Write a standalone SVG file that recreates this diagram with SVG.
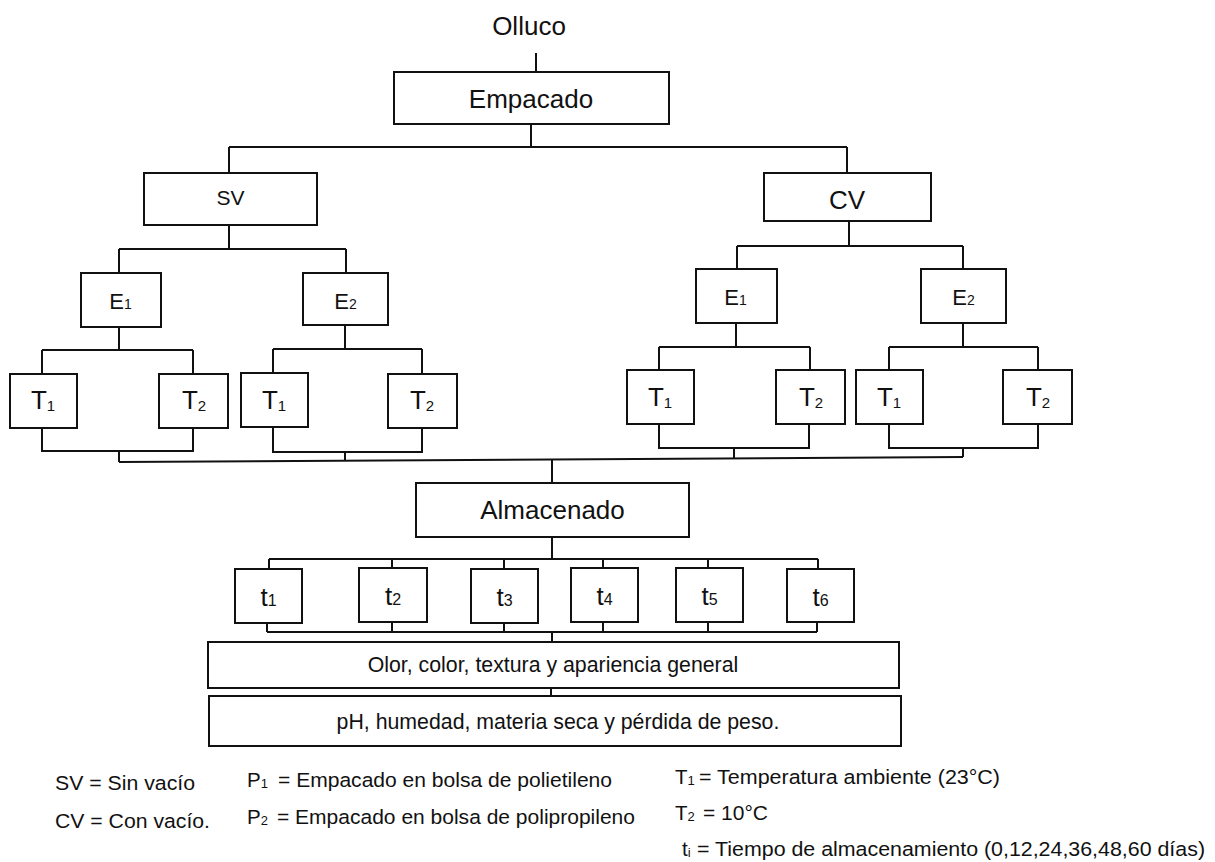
<svg xmlns="http://www.w3.org/2000/svg" width="1215" height="862" viewBox="0 0 1215 862">
<style>
  .box{fill:#fff;stroke:#111;stroke-width:2}
  .ln{fill:none;stroke:#111;stroke-width:2}
  text{font-family:"Liberation Sans",Arial,sans-serif;fill:#111}
  .big{font-size:26px;text-anchor:middle}
  .mid{font-size:21.3px;text-anchor:middle}
  .lg{font-size:20.5px}
  .s{font-size:15px}
</style>
<rect width="1215" height="862" fill="#fff"/>
<g id="connectors" class="ln">
  <path d="M536,53V72"/>
  <path d="M531,124V147M229,147H847M229,147V173M847,147V173"/>
  <path d="M229,225V249M119,249H346M119,249V273M346,249V273"/>
  <path d="M849,221V246M737,246H963M737,246V269M963,246V269"/>
  <path d="M119,327V350M42,350H193M42,350V374M193,350V374"/>
  <path d="M42,428V451H193V428M119,451V462"/>
  <path d="M345,325V349M273,349H422M273,349V373M422,349V374"/>
  <path d="M273,427V452H422V428M345,452V461"/>
  <path d="M736,323V347M659,347H810M659,347V370M810,347V370"/>
  <path d="M659,424V448H809V424M734,448V458"/>
  <path d="M963,323V347M889,347H1038M889,347V370M1038,347V370"/>
  <path d="M889,424V448H1038V424M963,448V457"/>
  <path d="M119,462L963,457"/>
  <path d="M552,459.5V483"/>
  <path d="M552,537V559M269,559H818M269,559V569M392,559V568M504,559V569M603,559V568M708,559V568M818,559V569"/>
  <path d="M267,623V632M392,622V632M504,623V632M603,622V632M708,622V632M817,622V632M267,632H817"/>
  <path d="M552,632V642M551,688V696"/>
</g>
<g id="olluco"><text class="big" x="529" y="35">Olluco</text></g>
<g id="empacado"><rect class="box" x="394" y="72" width="275" height="52"/><text class="big" x="531" y="108">Empacado</text></g>
<g id="sv"><rect class="box" x="144" y="173" width="173" height="52"/><text class="big" style="font-size:21px" x="230.5" y="205">SV</text></g>
<g id="cv"><rect class="box" x="764" y="173" width="167" height="48"/><text class="big" x="847" y="209">CV</text></g>
<g id="sv-e1"><rect class="box" x="81" y="273" width="80" height="54"/><text class="big" style="font-size:22px" x="120.5" y="309">E<tspan class="s" style="font-size:14px">1</tspan></text></g>
<g id="sv-e2"><rect class="box" x="303" y="273" width="85" height="52"/><text class="big" style="font-size:22px" x="345.5" y="309">E<tspan style="font-size:14px">2</tspan></text></g>
<g id="cv-e1"><rect class="box" x="696" y="269" width="81" height="54"/><text class="big" style="font-size:22px" x="735.5" y="305">E<tspan style="font-size:14px">1</tspan></text></g>
<g id="cv-e2"><rect class="box" x="921" y="269" width="85" height="54"/><text class="big" style="font-size:22px" x="963.5" y="305">E<tspan style="font-size:14px">2</tspan></text></g>
<g id="sv-e1-t1"><rect class="box" x="10" y="374" width="67" height="54"/><text class="big" x="43" y="409">T<tspan class="s" dy="2">1</tspan></text></g>
<g id="sv-e1-t2"><rect class="box" x="159" y="374" width="69" height="54"/><text class="big" x="194" y="409">T<tspan class="s" dy="2">2</tspan></text></g>
<g id="sv-e2-t1"><rect class="box" x="241" y="373" width="67" height="54"/><text class="big" x="274" y="409">T<tspan class="s" dy="2">1</tspan></text></g>
<g id="sv-e2-t2"><rect class="box" x="388" y="374" width="69" height="54"/><text class="big" x="422" y="409">T<tspan class="s" dy="2">2</tspan></text></g>
<g id="cv-e1-t1"><rect class="box" x="627" y="370" width="67" height="54"/><text class="big" x="660" y="406">T<tspan class="s" dy="2">1</tspan></text></g>
<g id="cv-e1-t2"><rect class="box" x="776" y="370" width="69" height="54"/><text class="big" x="811" y="406">T<tspan class="s" dy="2">2</tspan></text></g>
<g id="cv-e2-t1"><rect class="box" x="856" y="370" width="67" height="54"/><text class="big" x="889" y="406">T<tspan class="s" dy="2">1</tspan></text></g>
<g id="cv-e2-t2"><rect class="box" x="1003" y="370" width="69" height="54"/><text class="big" x="1038" y="406">T<tspan class="s" dy="2">2</tspan></text></g>
<g id="almacenado"><rect class="box" x="416" y="483" width="273" height="54"/><text class="big" x="552.5" y="519">Almacenado</text></g>
<g id="t1"><rect class="box" x="235" y="569" width="67" height="54"/><text class="big" x="268.5" y="606">t<tspan style="font-size:16px">1</tspan></text></g>
<g id="t2"><rect class="box" x="359" y="568" width="68" height="54"/><text class="big" x="393" y="605">t<tspan style="font-size:16px">2</tspan></text></g>
<g id="t3"><rect class="box" x="471" y="569" width="67" height="54"/><text class="big" x="504.5" y="606">t<tspan style="font-size:16px">3</tspan></text></g>
<g id="t4"><rect class="box" x="571" y="568" width="67" height="54"/><text class="big" x="604.5" y="605">t<tspan style="font-size:16px">4</tspan></text></g>
<g id="t5"><rect class="box" x="676" y="568" width="67" height="54"/><text class="big" x="709.5" y="605">t<tspan style="font-size:16px">5</tspan></text></g>
<g id="t6"><rect class="box" x="787" y="569" width="67" height="53"/><text class="big" x="820.5" y="606">t<tspan style="font-size:16px">6</tspan></text></g>
<g id="sensorial"><rect class="box" x="208" y="642" width="691" height="46"/><text class="mid" x="553" y="672">Olor, color, textura y apariencia general</text></g>
<g id="fisicoquimico"><rect class="box" x="209" y="696" width="692" height="50"/><text class="mid" x="558" y="729">pH, humedad, materia seca y pérdida de peso.</text></g>
<g id="legend">
  <text class="lg" x="55" y="790" textLength="140" lengthAdjust="spacingAndGlyphs">SV = Sin vacío</text>
  <text class="lg" x="55" y="828" textLength="155" lengthAdjust="spacingAndGlyphs">CV = Con vacío.</text>
  <text class="lg" x="247" y="787">P<tspan style="font-size:13px" dy="1">1</tspan></text>
  <text class="lg" x="278" y="787" textLength="334" lengthAdjust="spacingAndGlyphs">= Empacado en bolsa de polietileno</text>
  <text class="lg" x="247" y="824">P<tspan style="font-size:13px" dy="1">2</tspan></text>
  <text class="lg" x="277" y="824" textLength="358" lengthAdjust="spacingAndGlyphs">= Empacado en bolsa de polipropileno</text>
  <text class="lg" x="675" y="784">T<tspan style="font-size:13px" dy="1">1</tspan></text>
  <text class="lg" x="699" y="784" textLength="301" lengthAdjust="spacingAndGlyphs">= Temperatura ambiente (23°C)</text>
  <text class="lg" x="675" y="820">T<tspan style="font-size:13px" dy="1">2</tspan></text>
  <text class="lg" x="703" y="820" textLength="65" lengthAdjust="spacingAndGlyphs">= 10°C</text>
  <text class="lg" x="682" y="856">t<tspan style="font-size:13px" dy="1">i</tspan></text>
  <text class="lg" x="697" y="856" textLength="508" lengthAdjust="spacingAndGlyphs">=  Tiempo de almacenamiento (0,12,24,36,48,60 días)</text>
</g>
</svg>
